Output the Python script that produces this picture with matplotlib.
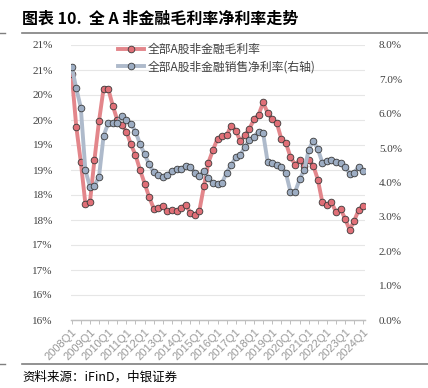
import numpy as np
import matplotlib
matplotlib.use('Agg')
import matplotlib.pyplot as plt
from matplotlib.lines import Line2D

# Quarters 2008Q1 .. 2024Q1
quarters = [f"{y}Q{q}" for y in range(2008, 2025) for q in range(1, 5)][:65]

# Gross margin, non-financial A shares (left axis, %)
gross = [20.42, 19.37, 18.66, 17.83, 17.85, 18.71, 19.48, 20.13, 20.13, 19.79,
         19.50, 19.40, 19.27, 19.01, 18.80, 18.50, 18.23, 17.96, 17.73, 17.74,
         17.79, 17.68, 17.70, 17.68, 17.74, 17.81, 17.65, 17.61, 17.68, 18.17,
         18.65, 18.90, 19.13, 19.17, 19.19, 19.39, 19.29, 19.08, 19.19, 19.33,
         19.51, 19.60, 19.85, 19.64, 19.52, 19.44, 19.12, 19.04, 18.76, 18.61,
         18.69, 18.59, 18.69, 18.59, 18.31, 17.85, 17.81, 17.85, 17.66, 17.72,
         17.52, 17.30, 17.49, 17.71, 17.78]

# Net margin on sales (right axis, %)
net = [7.37, 6.74, 6.18, 4.36, 3.88, 3.91, 4.17, 5.36, 5.72, 5.72,
       5.72, 5.93, 5.82, 5.71, 5.48, 5.12, 4.82, 4.53, 4.30, 4.22,
       4.17, 4.22, 4.33, 4.39, 4.39, 4.49, 4.46, 4.29, 4.19, 4.33,
       4.12, 3.98, 3.95, 3.99, 4.29, 4.51, 4.73, 4.80, 5.04, 5.24,
       5.33, 5.48, 5.43, 4.59, 4.56, 4.51, 4.46, 4.27, 3.73, 3.72,
       4.09, 4.36, 4.95, 5.22, 4.97, 4.58, 4.63, 4.65, 4.61, 4.56,
       4.46, 4.25, 4.29, 4.46, 4.33]

left_ticks = np.arange(15.5, 21.01, 0.5)
left_labels = ["16%", "16%", "17%", "17%", "18%", "18%",
               "19%", "19%", "20%", "20%", "21%", "21%"]
right_ticks = np.arange(0, 8.01, 1)
right_labels = ["0.0%", "1.0%", "2.0%", "3.0%", "4.0%", "5.0%",
                "6.0%", "7.0%", "8.0%"]

title = "图表 10.  全 A 非金融毛利率净利率走势"
source = "资料来源：iFinD，中银证券"
name_gross = "全部A股非金融毛利率"
name_net = "全部A股非金融销售净利率(右轴)"

cjk = ['Noto Sans CJK SC', 'DejaVu Sans']
plt.rcParams['font.family'] = cjk

red_line, red_face = '#E3868B', '#E06F77'
blue_line, blue_face = '#AEBACB', '#9DADC3'
edge = '#3a3a3a'

fig = plt.figure(figsize=(4.28, 3.88), dpi=100)
ax = fig.add_axes([71 / 428, 68 / 388, 294 / 428, 275 / 388])
ax2 = ax.twinx()

x = np.arange(len(quarters))
ax.plot(x, gross, color=red_line, lw=2.8, marker='o', ms=4.8,
        mfc=red_face, mec=edge, mew=0.6, zorder=3)
ax2.plot(x, net, color=blue_line, lw=2.8, marker='o', ms=4.8,
         mfc=blue_face, mec=edge, mew=0.6, zorder=3)

ax.set_xlim(-0.15, 64.35)
ax.set_ylim(15.5, 21.0)
ax2.set_ylim(0, 8)

ax.set_yticks(left_ticks)
ax.set_yticklabels(left_labels, family='Liberation Serif', fontsize=8,
                   color='#404040')
ax2.set_yticks(right_ticks)
ax2.set_yticklabels(right_labels, family='Liberation Serif', fontsize=8,
                    color='#404040')
ax.tick_params(axis='y', length=0, pad=13)
ax2.tick_params(axis='y', length=0, pad=10)
ax.grid(axis='y', color='#e6e6e6', lw=0.8)
ax.set_axisbelow(True)

tick_pos = list(range(0, 65, 2))
ax.set_xticks(tick_pos)
ax.set_xticklabels([quarters[i] if i % 4 == 0 else "" for i in tick_pos],
                   rotation=45, ha='right', va='top', rotation_mode='anchor',
                   family='Liberation Sans', fontsize=8, color='#999999')
ax.tick_params(axis='x', length=3, width=0.7, color='#bfbfbf', pad=2)

for a in (ax, ax2):
    for s in ('left', 'right', 'top'):
        a.spines[s].set_visible(False)
    a.spines['bottom'].set_color('#bfbfbf')
    a.spines['bottom'].set_linewidth(0.9)

handles = [
    Line2D([], [], color=red_line, lw=2.8, marker='o', ms=4.8,
           mfc=red_face, mec=edge, mew=0.6),
    Line2D([], [], color=blue_line, lw=2.8, marker='o', ms=4.8,
           mfc=blue_face, mec=edge, mew=0.6),
]
fig.legend(handles, [name_gross, name_net], loc='upper left',
           bbox_to_anchor=(113 / 428, 1 - 38 / 388), frameon=False,
           fontsize=8.5, handlelength=2.2, handletextpad=0.3,
           labelspacing=0.4, labelcolor='#404040', borderaxespad=0)

# title, rules and source note
fig.text(22 / 428, 1 - 19 / 388, title, fontsize=11.5, fontweight='bold',
         va='center', ha='left', color='#000000')
fig.add_artist(Line2D([22 / 428, 1], [1 - 33 / 388] * 2, color='#7f7f7f',
                      lw=1.2))
fig.add_artist(Line2D([0, 5 / 428], [1 - 33 / 388] * 2, color='#7f7f7f',
                      lw=1.0))
fig.add_artist(Line2D([22 / 428, 1], [1 - 364 / 388] * 2, color='#7f7f7f',
                      lw=1.2))
fig.add_artist(Line2D([0, 5 / 428], [1 - 364 / 388] * 2, color='#7f7f7f',
                      lw=1.0))
fig.text(22 / 428, 1 - 377 / 388, source, fontsize=9, va='center',
         ha='left', color='#000000', style='italic')

fig.savefig('out.png', dpi=100)
